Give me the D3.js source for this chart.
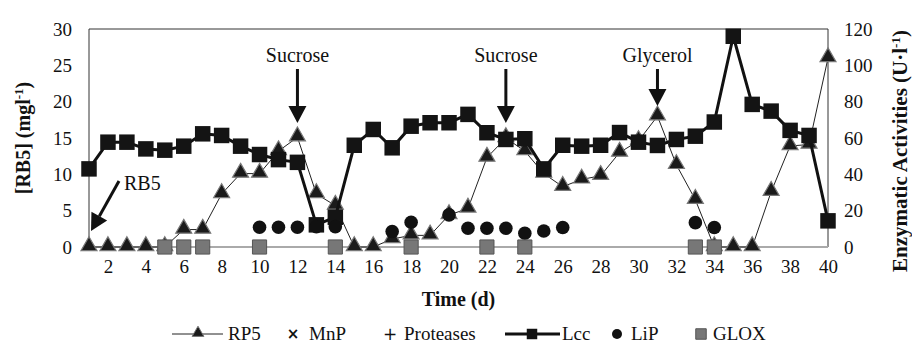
<!DOCTYPE html>
<html>
<head>
<meta charset="utf-8">
<script src="https://cdn.jsdelivr.net/npm/d3@7"></script>
<style>
  body { margin: 0; background: #fff; }
  text { font-family: "Liberation Serif", "Times New Roman", serif; }
</style>
</head>
<body>
<svg id="chart" width="912" height="358"></svg>
<script>
// days 1..40
const days = d3.range(1, 41);

// RP5 (left axis, mg/l)
const rp5 = [0, 0, 0, 0, 0, 2.4, 2.4, 7.3, 10.1, 10.1,
  13.2, 15.1, 7.3, 5.7, 0, 0, 1.1, 1.6, 1.6, 4.4,
  5.3, 12.3, 15.0, 13.2, 10.1, 8.3, 9.3, 9.8, 13.0, 14.6,
  18.0, 11.3, 6.5, 0, 0, 0, 7.6, 13.9, 14.1, 26.0];

// Lcc (right axis, U/l)
const lcc = [43, 57.7, 57.7, 54, 53.3, 55.5, 62.3, 61.4, 55.5, 50.9,
  48.1, 46.6, 12.2, 16.4, 56, 64.7, 54.6, 66.5, 68.4, 68.4,
  73, 62.9, 59.2, 59.6, 43, 56, 55.5, 56, 63, 57.7,
  55.9, 59.2, 61, 68.8, 116, 78.5, 74.8, 64.2, 61.4, 14.4];

// LiP (right axis) only on the days it was measured
const lipDays = [10, 11, 12, 13, 14, 17, 18, 20, 21, 22, 23, 24, 25, 26, 33, 34];
const lipVals = [10.9, 10.9, 10.9, 11.2, 11.2, 8.5, 13.6, 17.7, 10.3, 10.3, 10.3, 7.6, 8.8, 10.7, 13.4, 10.7];

// GLOX (right axis) all zero
const gloxDays = [5, 6, 7, 10, 14, 18, 22, 24, 33, 34];
const gloxVals = [0, 0, 0, 0, 0, 0, 0, 0, 0, 0];

const leftTicks = [0, 5, 10, 15, 20, 25, 30];
const rightTicks = [0, 20, 40, 60, 80, 100, 120];
const xTicks = d3.range(2, 41, 2);

const notes = [
  { label: "Sucrose", day: 12, tip: 123 },
  { label: "Sucrose", day: 23, tip: 123 },
  { label: "Glycerol", day: 31, tip: 106 }
];

const serif = "'Liberation Serif', 'Times New Roman', serif";
const svg = d3.select('#chart');
const margin = { top: 29, right: 84, bottom: 111, left: 89 };
const W = 912, H = 358;

const x = d3.scaleLinear().domain([1, 40]).range([margin.left, W - margin.right]);
const yL = d3.scaleLinear().domain([0, 30]).range([H - margin.bottom, margin.top]);
const yR = d3.scaleLinear().domain([0, 120]).range([H - margin.bottom, margin.top]);

// frame
svg.append('path')
  .attr('d', `M${x(1)},${yL(0)}V${yL(30)}H${x(40)}V${yL(0)}`)
  .attr('fill', 'none').attr('stroke', '#333').attr('stroke-width', 1);
svg.append('line')
  .attr('x1', x(1)).attr('x2', x(40)).attr('y1', yL(0)).attr('y2', yL(0))
  .attr('stroke', '#aaa').attr('stroke-width', 2);

// axes (labels only)
const axL = svg.append('g').attr('transform', `translate(${x(1)},0)`)
  .call(d3.axisLeft(yL).tickValues(leftTicks).tickSize(0).tickPadding(17));
const axR = svg.append('g').attr('transform', `translate(${x(40)},0)`)
  .call(d3.axisRight(yR).tickValues(rightTicks).tickSize(0).tickPadding(16));
const axB = svg.append('g').attr('transform', `translate(0,${yL(0)})`)
  .call(d3.axisBottom(x).tickValues(xTicks).tickSize(0).tickPadding(13));
[axL, axR, axB].forEach(a => {
  a.attr('font-family', serif).attr('font-size', 19);
  a.select('.domain').remove();
  a.selectAll('text').attr('fill', '#111');
});

// axis titles
svg.append('text')
  .attr('transform', `translate(30,${(yL(0) + yL(30)) / 2}) rotate(-90)`)
  .attr('text-anchor', 'middle').attr('font-size', 20).attr('font-weight', 'bold').attr('fill', '#111')
  .html('[RB5] (mgl<tspan dy="-7" font-size="13">-1</tspan><tspan dy="7">)</tspan>');
svg.append('text')
  .attr('transform', `translate(907,151) rotate(-90)`)
  .attr('text-anchor', 'middle').attr('font-size', 21).attr('font-weight', 'bold').attr('fill', '#111')
  .html('Enzymatic Activities (U·l<tspan dy="-7" font-size="13">-1</tspan><tspan dy="7">)</tspan>');
svg.append('text')
  .attr('x', (x(1) + x(40)) / 2).attr('y', 306)
  .attr('text-anchor', 'middle').attr('font-size', 20).attr('font-weight', 'bold').attr('fill', '#111')
  .text('Time (d)');

const tri = d3.symbol().type(d3.symbolTriangle).size(110);
const sq = d3.symbol().type(d3.symbolSquare).size(240);
const sqG = d3.symbol().type(d3.symbolSquare).size(200);

// RP5
svg.append('path').datum(days)
  .attr('fill', 'none').attr('stroke', '#222').attr('stroke-width', 1)
  .attr('d', d3.line().x(d => x(d)).y((d, i) => yL(rp5[i])));
svg.append('g').selectAll('path').data(days).join('path')
  .attr('transform', (d, i) => `translate(${x(d)},${yL(rp5[i]) - 1})`)
  .attr('d', tri).attr('fill', '#1a1a1a').attr('stroke', '#777').attr('stroke-width', 1.2);

// Lcc
svg.append('path').datum(days)
  .attr('fill', 'none').attr('stroke', '#111').attr('stroke-width', 3)
  .attr('d', d3.line().x(d => x(d)).y((d, i) => yR(lcc[i])));
svg.append('g').selectAll('path').data(days).join('path')
  .attr('transform', (d, i) => `translate(${x(d)},${yR(lcc[i])})`)
  .attr('d', sq).attr('fill', '#141414');

// LiP
svg.append('g').selectAll('circle').data(lipDays).join('circle')
  .attr('cx', d => x(d)).attr('cy', (d, i) => yR(lipVals[i]))
  .attr('r', 6.8).attr('fill', '#111');

// GLOX
svg.append('g').selectAll('path').data(gloxDays).join('path')
  .attr('transform', (d, i) => `translate(${x(d)},${yR(gloxVals[i])})`)
  .attr('d', sqG).attr('fill', '#777').attr('stroke', '#555').attr('stroke-width', 1);

// annotations
function arrow(g, x1, y1, x2, y2) {
  const ang = Math.atan2(y2 - y1, x2 - x1);
  const hl = 17, hw = 9;
  const bx = x2 - hl * Math.cos(ang), by = y2 - hl * Math.sin(ang);
  g.append('line').attr('x1', x1).attr('y1', y1).attr('x2', bx).attr('y2', by)
    .attr('stroke', '#111').attr('stroke-width', 3);
  g.append('path')
    .attr('d', `M${x2},${y2}L${bx + hw * Math.sin(ang)},${by - hw * Math.cos(ang)}L${bx - hw * Math.sin(ang)},${by + hw * Math.cos(ang)}Z`)
    .attr('fill', '#111');
}
const ann = svg.append('g').attr('fill', '#111');
notes.forEach(n => {
  ann.append('text').attr('x', x(n.day)).attr('y', 62)
    .attr('text-anchor', 'middle').attr('font-size', 20).text(n.label);
  arrow(ann, x(n.day), 69, x(n.day), n.tip);
});
ann.append('text').attr('x', 124).attr('y', 190).attr('font-size', 20).text('RB5');
arrow(ann, 119, 181, x(1) + 2, yL(0) - 16);

// legend
const lg = svg.append('g').attr('transform', 'translate(0,334)').attr('fill', '#111');
lg.append('line').attr('x1', 172).attr('x2', 223).attr('stroke', '#222').attr('stroke-width', 1);
lg.append('path').attr('transform', 'translate(198,-1)')
  .attr('d', d3.symbol().type(d3.symbolTriangle).size(60)).attr('fill', '#1a1a1a').attr('stroke', '#777');
lg.append('text').attr('x', 228).attr('y', 6).attr('font-size', 19).text('RP5');
lg.append('text').attr('x', 293).attr('y', 5).attr('font-size', 15).style('font-family', 'DejaVu Sans')
  .attr('text-anchor', 'middle').attr('font-weight', 'bold').text('×');
lg.append('text').attr('x', 309).attr('y', 6).attr('font-size', 19).text('MnP');
lg.append('text').attr('x', 390).attr('y', 6).attr('font-size', 17).style('font-family', 'DejaVu Sans')
  .attr('text-anchor', 'middle').text('+');
lg.append('text').attr('x', 404).attr('y', 6).attr('font-size', 19).text('Proteases');
lg.append('line').attr('x1', 505).attr('x2', 560).attr('stroke', '#111').attr('stroke-width', 3);
lg.append('path').attr('transform', 'translate(532,0)')
  .attr('d', d3.symbol().type(d3.symbolSquare).size(110)).attr('fill', '#111');
lg.append('text').attr('x', 562).attr('y', 6).attr('font-size', 19).text('Lcc');
lg.append('circle').attr('cx', 617).attr('cy', 0).attr('r', 5).attr('fill', '#111');
lg.append('text').attr('x', 631).attr('y', 6).attr('font-size', 19).text('LiP');
lg.append('path').attr('transform', 'translate(701,0)')
  .attr('d', d3.symbol().type(d3.symbolSquare).size(110)).attr('fill', '#777').attr('stroke', '#555');
lg.append('text').attr('x', 713).attr('y', 6).attr('font-size', 19).text('GLOX');
</script>
</body>
</html>
